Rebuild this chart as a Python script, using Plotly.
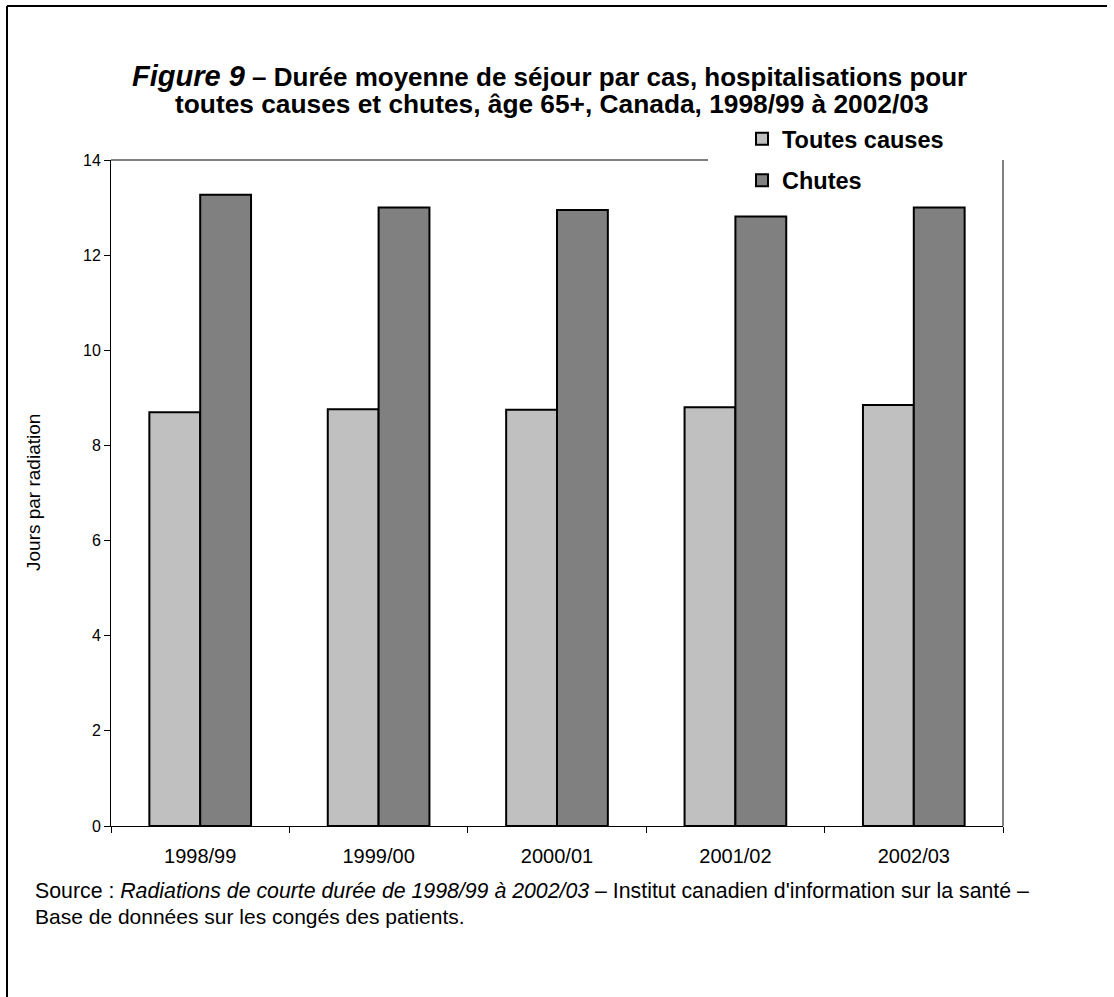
import plotly.graph_objects as go

# Fiscal years shown on the category axis
years = ["1998/99", "1999/00", "2000/01", "2001/02", "2002/03"]

# Average length of stay (days per discharge), age 65+
toutes_causes = [8.70, 8.76, 8.75, 8.80, 8.85]
chutes = [13.27, 13.00, 12.95, 12.81, 13.00]

y_ticks = [0, 2, 4, 6, 8, 10, 12, 14]

FONT = "Liberation Sans, Arial, sans-serif"

# Plot-area geometry in pixels (page is 1114 x 997)
W, H = 1114, 997
L, R, T, B = 111, 1003, 160, 826


def px_x(x):
    return (x - L) / (R - L)


def px_y(y):
    return (B - y) / (B - T)


fig = go.Figure()
fig.add_trace(go.Bar(
    x=years, y=toutes_causes, name="Toutes causes",
    marker=dict(color="#C0C0C0", line=dict(color="#000000", width=2)),
    legendgroup="a",
))
fig.add_trace(go.Bar(
    x=years, y=chutes, name="Chutes",
    marker=dict(color="#808080", line=dict(color="#000000", width=2)),
    legendgroup="b",
))

shapes = [
    # grey frame of the plot area (top, interrupted by the legend, and right)
    dict(type="line", xref="paper", yref="paper", x0=0, x1=px_x(708), y0=1, y1=1,
         line=dict(color="#808080", width=2)),
    dict(type="line", xref="paper", yref="paper", x0=1, x1=1, y0=0, y1=1,
         line=dict(color="#808080", width=2)),
    # outer page frame (top and left edges)
    dict(type="line", xref="paper", yref="paper", x0=px_x(7), x1=px_x(1107),
         y0=px_y(6), y1=px_y(6), line=dict(color="#000000", width=2)),
    dict(type="line", xref="paper", yref="paper", x0=px_x(7), x1=px_x(7),
         y0=px_y(6), y1=px_y(997), line=dict(color="#000000", width=2)),
]


def text_at(x, y, text, size, xanchor="center", angle=0):
    return dict(xref="paper", yref="paper", x=px_x(x), y=px_y(y), xanchor=xanchor,
                yanchor="middle", showarrow=False, text=text, textangle=angle,
                font=dict(family=FONT, size=size, color="#000000"))


annotations = [
    text_at(549, 76,
            "<b><i><span style='font-size:29px'>Figure 9</span></i></b>"
            "<b> – Durée moyenne de séjour par cas, hospitalisations pour</b>", 26),
    text_at(552, 104,
            "<b>toutes causes et chutes, âge 65+, Canada, 1998/99 à 2002/03</b>", 26.3),
    text_at(33, 891,
            "Source : <i>Radiations de courte durée de 1998/99 à 2002/03</i> – "
            "Institut canadien d'information sur la santé –", 21.3, xanchor="left"),
    text_at(33, 916, "Base de données sur les congés des patients.", 21, xanchor="left"),
    text_at(33, 493, "Jours par radiation", 19, angle=-90),
]

fig.update_layout(
    width=W, height=H,
    margin=dict(l=L, r=W - R, t=T, b=H - B, pad=0),
    paper_bgcolor="#FFFFFF", plot_bgcolor="#FFFFFF",
    font=dict(family=FONT, size=16, color="#000000"),
    barmode="group", bargap=0.43, bargroupgap=0,
    showlegend=True,
    legend=dict(
        x=px_x(742), y=px_y(117), xanchor="left", yanchor="top",
        bgcolor="rgba(0,0,0,0)", borderwidth=0,
        font=dict(family=FONT, size=23.5, color="#000000", weight="bold"),
        traceorder="grouped", tracegroupgap=8,
    ),
    shapes=shapes,
    annotations=annotations,
)

fig.update_xaxes(
    type="category", showline=True, linecolor="#000000", linewidth=1,
    ticks="outside", ticklen=6, tickcolor="#000000", tickson="boundaries",
    showgrid=False, tickfont=dict(family=FONT, size=20), ticklabelstandoff=12,
)
fig.update_yaxes(
    range=[0, 14], tickvals=y_ticks, showline=True, linecolor="#000000", linewidth=1,
    ticks="outside", ticklen=6, tickcolor="#000000", showgrid=False, zeroline=False,
    tickfont=dict(family=FONT, size=16), ticklabelstandoff=0,
)

fig.write_html("out.html")
